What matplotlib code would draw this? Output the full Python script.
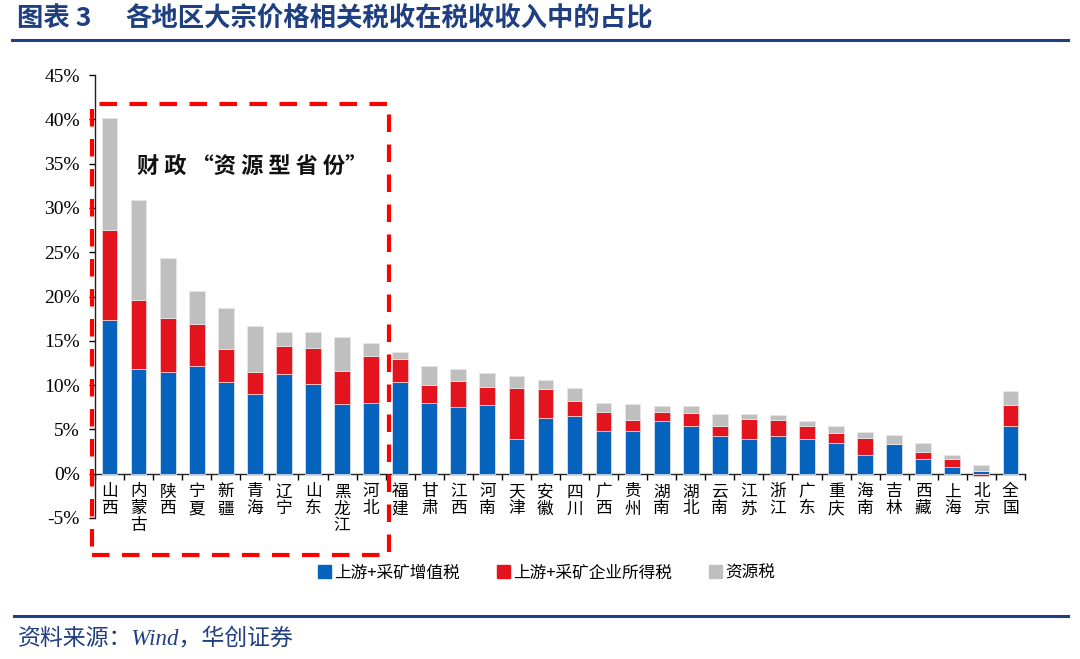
import numpy as np
import matplotlib.pyplot as plt
from matplotlib.patches import Rectangle
from matplotlib.lines import Line2D

plt.rcParams['font.family'] = ['Noto Sans CJK SC', 'DejaVu Sans']

# 数据（%）
regions = ['山西', '内蒙古', '陕西', '宁夏', '新疆', '青海', '辽宁', '山东', '黑龙江', '河北',
           '福建', '甘肃', '江西', '河南', '天津', '安徽', '四川', '广西', '贵州', '湖南',
           '湖北', '云南', '江苏', '浙江', '广东', '重庆', '海南', '吉林', '西藏', '上海',
           '北京', '全国']
vat = [17.4, 11.8, 11.5, 12.2, 10.3, 9.0, 11.3, 10.1, 7.9, 8.0,
       10.4, 8.0, 7.5, 7.7, 3.9, 6.3, 6.5, 4.8, 4.8, 5.9,
       5.4, 4.2, 3.9, 4.3, 3.9, 3.5, 2.1, 3.3, 1.7, 0.8,
       0.35, 5.4]
income_tax = [10.1, 7.8, 6.1, 4.7, 3.8, 2.5, 3.1, 4.1, 3.7, 5.3,
              2.6, 2.0, 3.0, 2.1, 5.8, 3.3, 1.7, 2.2, 1.3, 1.1,
              1.4, 1.2, 2.3, 1.8, 1.5, 1.1, 1.9, 0.1, 0.8, 0.9,
              -0.3, 2.4]
resource_tax = [12.7, 11.3, 6.7, 3.7, 4.6, 5.2, 1.6, 1.8, 3.8, 1.5,
                0.7, 2.2, 1.3, 1.6, 1.3, 1.0, 1.5, 1.0, 1.8, 0.6,
                0.8, 1.3, 0.5, 0.5, 0.6, 0.8, 0.7, 1.0, 1.0, 0.4,
                0.65, 1.5]
series_names = ['上游+采矿增值税', '上游+采矿企业所得税', '资源税']
yticks = list(range(-5, 50, 5))

blue = '#0563BE'
red = '#E3141E'
gray = '#BFBFBF'
navy = '#1F3F80'

vat = np.array(vat)
income_tax = np.array(income_tax)
resource_tax = np.array(resource_tax)
x = np.arange(len(regions))

fig = plt.figure(figsize=(10.8, 6.59), dpi=100)
ax = fig.add_axes([0.088, 0.214, 0.861, 0.672])

w = 0.54
ax.bar(x, vat, w, color=blue, edgecolor='#d6e4f2', linewidth=0.6, zorder=3)
red_bottom = np.where(income_tax >= 0, vat, 0)
ax.bar(x, income_tax, w, bottom=red_bottom, color=red, edgecolor='#f3c9cb',
       linewidth=0.6, zorder=3)
gray_bottom = vat + np.clip(income_tax, 0, None)
ax.bar(x, resource_tax, w, bottom=gray_bottom, color=gray, edgecolor='#e6e6e6',
       linewidth=0.6, zorder=3)

ax.set_xlim(-0.5, len(regions) - 0.5)
ax.set_ylim(-5, 45)
ax.set_yticks(yticks)
ax.set_yticklabels([f'{v}%' for v in yticks], fontfamily='Liberation Serif', fontsize=14)

ax.spines['top'].set_visible(False)
ax.spines['right'].set_visible(False)
ax.spines['bottom'].set_position(('data', 0))
for s in ['left', 'bottom']:
    ax.spines[s].set_linewidth(1.0)
    ax.spines[s].set_color('#222222')

ax.set_xticks(x)
ax.set_xticklabels(['\n'.join(r) for r in regions], fontsize=12, linespacing=1.0,
                   va='top')
ax.set_xticks(np.arange(-0.5, len(regions)), minor=True)
ax.tick_params(axis='x', which='major', length=0, pad=7)
ax.tick_params(axis='x', which='minor', length=4, direction='out', width=1.0)
ax.tick_params(axis='y', length=4, direction='out', width=1.0, pad=7)

# 虚线框
box = Rectangle((0.0852, 0.158), 0.360 - 0.0852, 0.842 - 0.158, transform=fig.transFigure,
                fill=False, edgecolor='#FF0000', linewidth=3, linestyle=(0, (4.2, 3)),
                zorder=5)
fig.add_artist(box)
fig.text(0.127, 0.748, '财 政 “资 源 型 省 份”', fontsize=16, fontweight='bold',
         ha='left', va='center', color='#111111')

# 图例
handles = [Rectangle((0, 0), 1, 1, color=c) for c in (blue, red, gray)]
fig.legend(handles, series_names, loc='center', bbox_to_anchor=(0.506, 0.1305), ncol=3,
           frameon=False, fontsize=12, handlelength=0.8, handleheight=0.8,
           handletextpad=0.2, columnspacing=2.2)

# 标题与来源
fig.text(0.016, 0.972, '图表 3', fontsize=19, fontweight='bold', color=navy,
         ha='left', va='center')
fig.text(0.116, 0.972, '各地区大宗价格相关税收在税收收入中的占比', fontsize=19,
         fontweight='bold', color=navy, ha='left', va='center')
fig.add_artist(Line2D([0.011, 0.989], [0.939, 0.939], transform=fig.transFigure,
                      color=navy, linewidth=2.2))
fig.add_artist(Line2D([0.013, 0.989], [0.065, 0.065], transform=fig.transFigure,
                      color=navy, linewidth=2.2))
fig.text(0.017, 0.031, '资料来源：Wind，华创证券', fontsize=16.5, style='italic',
         family=['Liberation Serif', 'Noto Sans CJK SC'], color=navy, ha='left', va='center')

fig.savefig('out.png', dpi=100)
